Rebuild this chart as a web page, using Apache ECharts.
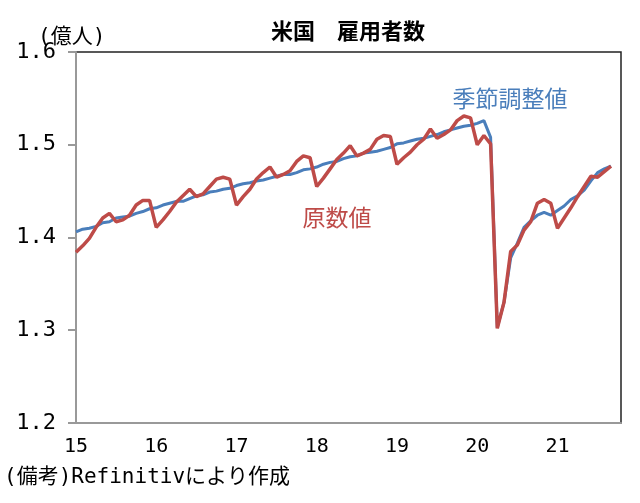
<!DOCTYPE html>
<html lang="ja">
  <head>
    <meta charset="UTF-8" />
    <title>米国　雇用者数</title>
    <script src="https://cdn.jsdelivr.net/npm/echarts@6/dist/echarts.min.js"></script>
    <style>
      html, body { margin: 0; padding: 0; background: #fff; }
      #main { width: 640px; height: 503px; }
    </style>
  </head>
  <body>
    <div id="main"></div>

    <script>
      // monthly, Jan 2015 .. Sep 2021 (億人)
      const yearLabels = ['15', '16', '17', '18', '19', '20', '21'];

      const seasonallyAdjusted = [
        1.406, 1.409, 1.410, 1.412, 1.416, 1.417, 1.421, 1.422, 1.423, 1.426, 1.428, 1.431,
        1.432, 1.435, 1.437, 1.439, 1.439, 1.442, 1.445, 1.446, 1.449, 1.450, 1.452, 1.453,
        1.456, 1.458, 1.459, 1.461, 1.462, 1.464, 1.466, 1.468, 1.468, 1.470, 1.473, 1.474,
        1.476, 1.479, 1.481, 1.482, 1.485, 1.487, 1.488, 1.491, 1.492, 1.493, 1.495, 1.497,
        1.501, 1.502, 1.504, 1.506, 1.507, 1.509, 1.511, 1.514, 1.516, 1.518, 1.520, 1.521,
        1.523, 1.526, 1.508, 1.303, 1.330, 1.378, 1.394, 1.411, 1.418, 1.424, 1.427, 1.424,
        1.429, 1.434, 1.441, 1.445, 1.451, 1.461, 1.470, 1.474, 1.477
      ];

      const original = [
        1.384, 1.391, 1.399, 1.411, 1.421, 1.426, 1.417, 1.419, 1.424, 1.435, 1.440, 1.440,
        1.411, 1.419, 1.428, 1.438, 1.445, 1.452, 1.444, 1.447, 1.455, 1.463, 1.465, 1.463,
        1.435, 1.444, 1.452, 1.463, 1.470, 1.476, 1.465, 1.468, 1.472, 1.482, 1.488, 1.486,
        1.455, 1.464, 1.474, 1.484, 1.491, 1.499, 1.488, 1.491, 1.495, 1.506, 1.510, 1.509,
        1.479, 1.486, 1.492, 1.500, 1.506, 1.517, 1.507, 1.511, 1.516, 1.526, 1.531, 1.529,
        1.500, 1.510, 1.501, 1.302, 1.330, 1.385, 1.392, 1.408, 1.417, 1.437, 1.441, 1.437,
        1.410, 1.421, 1.432, 1.444, 1.455, 1.466, 1.465, 1.471, 1.477
      ];

      const font = '"Noto Sans CJK JP", "Noto Sans", sans-serif';
      // half-width latin/digits in a fixed-pitch face, kana/kanji fall back to Noto CJK
      const monoFont = '"DejaVu Sans Mono", "Noto Sans CJK JP", monospace';
      const blue = '#4a7ebb';
      const red = '#be4b48';

      // x = month index from Jan 2015
      const toPoints = (arr) => arr.map((v, i) => [i, v]);

      const options = {
        animation: false,
        grid: {
          left: 76,
          right: 19,
          top: 52,
          bottom: 80,
          show: true,
          borderColor: '#222',
          borderWidth: 1.5,
        },
        xAxis: {
          type: 'value',
          min: 0,
          max: 81.5,
          interval: 12,
          axisLine: { lineStyle: { color: '#999', width: 2 } },
          axisTick: { show: false },
          splitLine: { show: false },
          axisLabel: {
            showMaxLabel: false,
            margin: 14,
            color: '#000',
            fontFamily: monoFont,
            fontSize: 20,
            formatter: (v) => (v % 12 === 0 ? yearLabels[v / 12] || '' : ''),
          },
        },
        yAxis: {
          type: 'value',
          min: 1.2,
          max: 1.6,
          interval: 0.1,
          axisLine: { show: true, lineStyle: { color: '#999', width: 2 } },
          axisTick: { show: true, length: 8, lineStyle: { color: '#999', width: 2 } },
          splitLine: { show: false },
          axisLabel: {
            margin: 20,
            color: '#000',
            fontFamily: monoFont,
            fontSize: 22,
            formatter: (v) => v.toFixed(1),
          },
        },
        series: [
          {
            name: '季節調整値',
            type: 'line',
            data: toPoints(seasonallyAdjusted),
            symbol: 'none',
            lineStyle: { color: blue, width: 3 },
          },
          {
            name: '原数値',
            type: 'line',
            data: toPoints(original),
            symbol: 'none',
            lineStyle: { color: red, width: 3.5 },
          },
        ],
        graphic: [
          {
            type: 'text',
            x: 348,
            y: 31,
            style: {
              text: '米国　雇用者数',
              font: 'bold 22px ' + font,
              fill: '#000',
              align: 'center',
              verticalAlign: 'middle',
            },
          },
          {
            type: 'text',
            x: 38,
            y: 38,
            style: {
              text: '(億人)',
              font: '21px ' + monoFont,
              fill: '#000',
              align: 'left',
              verticalAlign: 'middle',
            },
          },
          {
            type: 'text',
            x: 510,
            y: 98,
            style: {
              text: '季節調整値',
              font: '23px ' + font,
              fill: blue,
              align: 'center',
              verticalAlign: 'middle',
            },
          },
          {
            type: 'text',
            x: 337,
            y: 217,
            style: {
              text: '原数値',
              font: '23px ' + font,
              fill: red,
              align: 'center',
              verticalAlign: 'middle',
            },
          },
          {
            type: 'text',
            x: 4,
            y: 478,
            style: {
              text: '(備考)Refinitivにより作成',
              font: '21px ' + monoFont,
              fill: '#000',
              align: 'left',
              verticalAlign: 'middle',
            },
          },
        ],
      };

      const myChart = echarts.init(document.querySelector('#main'));
      myChart.setOption(options);

      window.onresize = function () {
        myChart.resize();
      };
    </script>
  </body>
</html>
